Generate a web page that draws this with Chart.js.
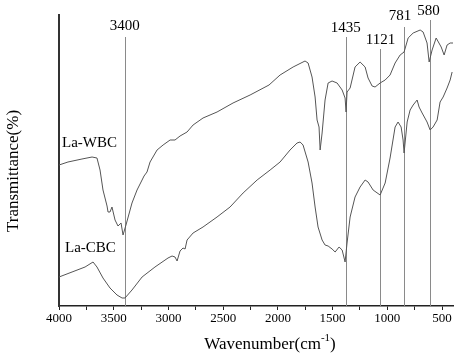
<!DOCTYPE html>
<html lang="en">

<head>
  <meta charset="UTF-8" />
  <title>FTIR La-WBC / La-CBC</title>
  <script src="https://cdn.jsdelivr.net/npm/chart.js@4.4.0/dist/chart.umd.min.js"></script>
  <style>
    html, body { margin: 0; padding: 0; background: #fff; }
    #wrap { width: 458px; height: 360px; }
  </style>
</head>

<body>
  <div id="wrap"><canvas id="irChart" width="458" height="360"></canvas></div>

  <script>
    // spectra (wavenumber in cm-1, transmittance in arbitrary units)
    const wbcWave = [4000, 3918, 3790, 3698, 3653, 3625, 3598, 3561, 3552, 3534, 3516, 3488, 3461, 3433, 3415, 3388,
      3333, 3287, 3241, 3223, 3196, 3168, 3104, 3049, 2985, 2940, 2894, 2830, 2775, 2684, 2556, 2410, 2254, 2081,
      1980, 1861, 1752, 1724, 1688, 1660, 1642, 1624, 1614, 1596, 1569, 1541, 1505, 1459, 1413, 1386, 1377, 1368,
      1340, 1295, 1249, 1203, 1176, 1139, 1112, 1066, 1020, 975, 929, 883, 847, 810, 764, 700, 673, 637, 618, 591,
      554, 508, 481, 454, 426, 400];
    const wbcT = [141, 144, 147, 149, 148, 136, 116, 100, 94, 94, 99, 86, 80, 83, 71, 81,
      103, 116, 126, 130, 134, 144, 156, 161, 166, 166, 170, 174, 181, 188, 194, 203, 211, 221,
      231, 239, 245, 243, 229, 209, 186, 179, 156, 173, 206, 223, 225, 223, 216, 208, 194, 214,
      218, 239, 244, 239, 228, 220, 219, 223, 226, 231, 243, 251, 254, 268, 273, 276, 274, 263, 244, 256,
      268, 259, 251, 261, 263, 263];

    const cbcWave = [4000, 3881, 3762, 3689, 3653, 3598, 3534, 3470, 3424, 3397, 3333, 3241, 3123, 3004, 2967, 2940,
      2921, 2894, 2867, 2848, 2830, 2775, 2684, 2556, 2437, 2318, 2190, 2071, 1980, 1889, 1825, 1797, 1770, 1724,
      1688, 1660, 1633, 1596, 1569, 1541, 1505, 1477, 1441, 1413, 1386, 1368, 1340, 1295, 1249, 1203, 1176, 1130,
      1066, 1020, 975, 929, 902, 874, 856, 847, 819, 792, 764, 728, 710, 682, 637, 609, 582, 545, 518, 490, 454,
      426, 408];
    const cbcT = [29, 34, 39, 44, 39, 28, 18, 11, 8, 8, 16, 29, 39, 48, 50, 49,
      45, 55, 58, 57, 66, 73, 79, 89, 99, 113, 126, 136, 144, 156, 163, 164, 161, 144,
      123, 99, 79, 66, 61, 60, 57, 54, 59, 56, 44, 63, 89, 109, 119, 126, 124, 116,
      111, 123, 148, 179, 184, 179, 166, 153, 184, 196, 201, 206, 199, 193, 184, 176, 179, 186, 204, 209, 218,
      226, 234];

    // marked bands: printed label and where the line sits on the plotted spectrum
    const peakLabels = ["3400", "1435", "1121", "781", "580"];
    const peakPos = [3400, 1380, 1063, 847, 606];

    const xTicks = [4000, 3750, 3500, 3250, 3000, 2750, 2500, 2250, 2000, 1750, 1500, 1250, 1000, 750, 500];
    const seriesNames = ["La-WBC", "La-CBC"];

    const serif = "'Liberation Serif', 'Times New Roman', serif";

    // label layout for the marked bands (y of text, y where line starts)
    const peakLayout = [
      { ty: 26, top: 37, dx: 0 },
      { ty: 28, top: 37, dx: 0 },
      { ty: 40, top: 49, dx: 0 },
      { ty: 16, top: 27, dx: -4 },
      { ty: 11, top: 20, dx: -2 },
    ];

    const decorPlugin = {
      id: "decor",
      beforeDatasetsDraw(chart) {
        const ctx = chart.ctx;
        const x = chart.scales.x;
        const bottom = chart.chartArea.bottom;
        ctx.save();
        ctx.strokeStyle = "#8a8a8a";
        ctx.lineWidth = 1;
        peakPos.forEach((p, i) => {
          const px = Math.round(x.getPixelForValue(p)) + 0.5;
          ctx.beginPath();
          ctx.moveTo(px, peakLayout[i].top);
          ctx.lineTo(px, bottom);
          ctx.stroke();
        });
        ctx.restore();
      },
      afterDraw(chart) {
        const ctx = chart.ctx;
        const x = chart.scales.x;
        ctx.save();
        ctx.fillStyle = "#000";
        ctx.textBaseline = "middle";
        ctx.textAlign = "center";
        ctx.font = "15px " + serif;
        peakLabels.forEach((t, i) => {
          ctx.fillText(t, x.getPixelForValue(peakPos[i]) + peakLayout[i].dx, peakLayout[i].ty);
        });

        // series names
        ctx.textAlign = "left";
        ctx.font = "15px " + serif;
        ctx.fillText(seriesNames[0], 62, 143);
        ctx.fillText(seriesNames[1], 65, 248);

        // x title with superscript
        const a = "Wavenumber(cm", b = ")";
        ctx.font = "11px " + serif;
        const supW = ctx.measureText("-1").width;
        ctx.font = "17px " + serif;
        const total = ctx.measureText(a).width + supW + ctx.measureText(b).width;
        let sx = 270 - total / 2;
        ctx.fillText(a, sx, 345);
        sx += ctx.measureText(a).width;
        ctx.font = "11px " + serif;
        ctx.fillText("-1", sx, 338);
        sx += supW;
        ctx.font = "17px " + serif;
        ctx.fillText(b, sx, 345);

        // y title
        ctx.translate(14, 171);
        ctx.rotate(-Math.PI / 2);
        ctx.textAlign = "center";
        ctx.fillText("Transmittance(%)", 0, 0);
        ctx.restore();
      }
    };

    const lineStyle = {
      borderColor: "#555",
      borderWidth: 1,
      pointRadius: 0,
      tension: 0,
      fill: false,
    };

    const irChart = new Chart(document.getElementById("irChart").getContext("2d"), {
      type: "line",
      data: {
        datasets: [
          Object.assign({ label: seriesNames[0], data: wbcWave.map((w, i) => ({ x: w, y: wbcT[i] })) }, lineStyle),
          Object.assign({ label: seriesNames[1], data: cbcWave.map((w, i) => ({ x: w, y: cbcT[i] })) }, lineStyle),
        ],
      },
      options: {
        responsive: false,
        animation: false,
        layout: { padding: { top: 15, right: 5, left: 0, bottom: 0 } },
        plugins: { legend: { display: false }, tooltip: { enabled: false } },
        scales: {
          x: {
            type: "linear",
            reverse: true,
            min: 400,
            max: 4000,
            afterBuildTicks: (s) => { s.ticks = xTicks.map((v) => ({ value: v })); },
            afterFit: (s) => { s.height = 54; },
            ticks: {
              autoSkip: false,
              maxRotation: 0,
              padding: 1,
              color: "#000",
              font: { family: serif, size: 13 },
              callback: (v) => (v % 500 === 0 ? String(v) : ""),
            },
            grid: {
              drawOnChartArea: false,
              tickLength: 4,
              tickColor: "#222",
              tickWidth: 1,
            },
            border: { display: true, color: "#222", width: 1.5 },
          },
          y: {
            min: 0,
            max: 291,
            afterFit: (s) => { s.width = 59; },
            ticks: { display: false },
            grid: { display: false },
            border: { display: true, color: "#333", width: 2 },
          },
        },
      },
      plugins: [decorPlugin],
    });
  </script>
</body>

</html>
